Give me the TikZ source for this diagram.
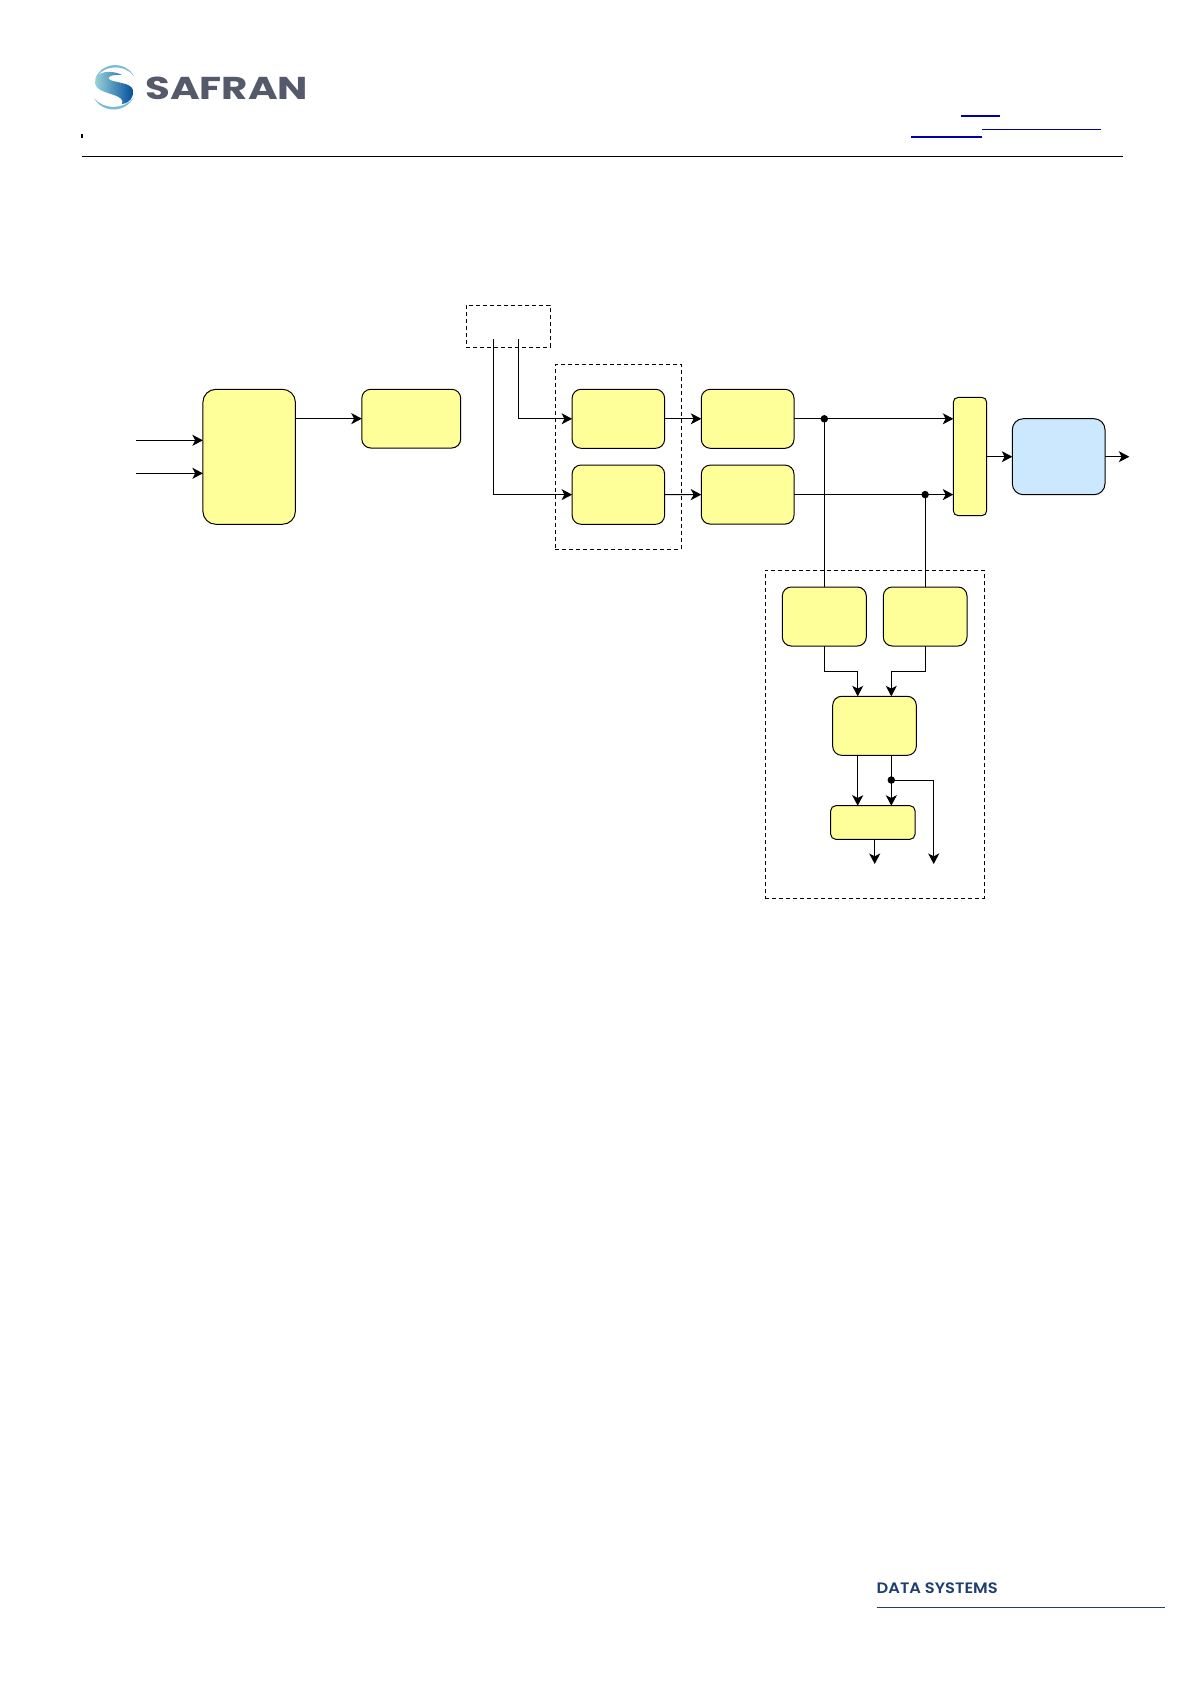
\documentclass[tikz,border=0pt]{standalone}
\usepackage{graphicx}
\usepackage{fontspec}
\newfontfamily\logofont{Poppins}[UprightFont=* Bold]
\newfontfamily\datafont{Poppins}[UprightFont=* SemiBold]
\usetikzlibrary{arrows.meta,calc}
\definecolor{boxyellow}{HTML}{FFFF99}
\definecolor{boxblue}{HTML}{CCE8FF}
\definecolor{linkblue}{HTML}{0000A8}
\definecolor{logogrey}{HTML}{555A6B}
\definecolor{datablue}{HTML}{1F3F6F}
\tikzset{
  x=1pt,y=-1pt,
  block/.style={draw=black,line width=1pt,inner sep=0pt,outer sep=0pt,rounded corners=9pt},
  ybox/.style={block,fill=boxyellow},
  bbox/.style={block,fill=boxblue,rounded corners=11pt},
  dbox/.style={draw=black,line width=0.9pt,dash pattern=on 4pt off 3pt,inner sep=0pt,outer sep=0pt},
  link/.style={draw=black,line width=1pt},
  arr/.style={link,-{Stealth[length=10.5pt,width=11pt,inset=2.8pt]}},
  dotn/.style={circle,fill=black,inner sep=0pt,minimum size=7.5pt},
}
\begin{document}
\begin{tikzpicture}
\useasboundingbox (0,0) rectangle (1191,1684);
% logo
\shade[left color=blue!10!cyan!30!white!85!black,right color=blue!50!cyan!60!black]
 (122,75) .. controls (112,70) and (96,70) .. (95,82)
 .. controls (95,90) and (105,92) .. (114,95)
 .. controls (120,97) and (124,100) .. (122,104)
 .. controls (130,103) and (134,97) .. (133,90)
 .. controls (131,83) and (118,83) .. (110,80)
 .. controls (106,78) and (110,74) .. (122,75) -- cycle;
\fill[blue!30!cyan!45!white!85!black]
 (95,80) .. controls (100,62) and (125,60) .. (134,76)
 .. controls (125,64) and (102,64) .. (95,80) -- cycle;
\fill[blue!30!cyan!45!white!85!black]
 (94,98) .. controls (102,113) and (125,114) .. (134,97)
 .. controls (125,110) and (103,110) .. (94,98) -- cycle;
\node[anchor=west,inner sep=0pt,text=logogrey] (logo) at (145,88.3)
 {\resizebox{163pt}{22.5pt}{\logofont SAFRAN}};
% header
\fill[black] (81,134) rectangle (83,138);
\draw[line width=1pt] (82,156.3) -- (1123,156.3);
\draw[linkblue,line width=2pt] (961,115.7) -- (1000,115.7);
\draw[linkblue,line width=1pt] (982,129.3) -- (1101,129.3);
\draw[linkblue,line width=2pt] (911,137) -- (982,137);
% footer
\node[anchor=west,inner sep=0pt,text=datablue] (data) at (876.5,1588.6)
 {\resizebox{121pt}{10.7pt}{\datafont DATA SYSTEMS}};
\draw[datablue,line width=1.4pt] (876.7,1607.3) -- (1165,1607.3);

% dashed groups
\node[dbox,minimum width=84pt,minimum height=42pt] (T) at (508.4,326.3) {};
\node[dbox,minimum width=125.9pt,minimum height=184.7pt] (Mid) at (618.35,456.65) {};
\node[dbox,minimum width=219pt,minimum height=328pt] (Low) at (874.8,734.3) {};

% blocks
\node[ybox,rounded corners=13pt,minimum width=92.5pt,minimum height=135pt] (A) at (249.15,456.8) {};
\node[ybox,minimum width=98.9pt,minimum height=58.7pt] (B) at (411.25,418.65) {};
\node[ybox,minimum width=92.5pt,minimum height=59pt] (C1) at (618.35,418.8) {};
\node[ybox,minimum width=92.5pt,minimum height=59.3pt] (C2) at (618.35,494.65) {};
\node[ybox,minimum width=92.7pt,minimum height=59pt] (D1) at (747.65,418.8) {};
\node[ybox,minimum width=92.7pt,minimum height=59pt] (D2) at (747.65,494.6) {};
\node[ybox,rounded corners=5pt,minimum width=33.4pt,minimum height=118.4pt] (M) at (970,456.5) {};
\node[bbox,minimum width=92.7pt,minimum height=76pt] (P) at (1058.65,456.7) {};
\node[ybox,minimum width=84pt,minimum height=59pt] (E1) at (824.3,616.5) {};
\node[ybox,minimum width=83.7pt,minimum height=59pt] (E2) at (925.15,616.5) {};
\node[ybox,minimum width=83.6pt,minimum height=59pt] (F) at (874.5,725.8) {};
\node[ybox,rounded corners=5pt,minimum width=84.3pt,minimum height=33.6pt] (G) at (872.85,822.5) {};

% free ends and routing points
\coordinate (in1) at (136,440.3);
\coordinate (in2) at (136,473.3);
\coordinate (t1) at (493.2,339.3);
\coordinate (t2) at (518.2,339.3);
\coordinate (out) at (1129.3,456.7);
\coordinate (jn) at (0,671);
\coordinate (fL) at (857.7,0);
\coordinate (fR) at (891.3,0);
\coordinate (gX) at (874.7,0);
\coordinate (brX) at (933.7,0);
\coordinate (endY) at (0,864);

% dots
\node[dotn] (d1) at (E1.north |- D1.east) {};
\node[dotn] (d2) at (E2.north |- D2.east) {};
\node[dotn] (d3) at (891.3,780) {};

% connectors
\draw[arr] (in1) -- (in1 -| A.west);
\draw[arr] (in2) -- (in2 -| A.west);
\draw[arr] (A.east |- B.west) -- (B.west);
\draw[arr] (t2) -- (t2 |- C1.west) -- (C1.west);
\draw[arr] (t1) -- (t1 |- C2.west) -- (C2.west);
\draw[arr] (C1.east) -- (D1.west);
\draw[arr] (C2.east) -- (D2.west);
\draw[arr] (D1.east) -- (D1.east -| M.west);
\draw[arr] (D2.east) -- (D2.east -| M.west);
\draw[arr] (M.east |- P.west) -- (P.west);
\draw[arr] (P.east) -- (out);
\draw[link] (d1.center) -- (E1.north);
\draw[link] (d2.center) -- (E2.north);
\draw[arr] (E1.south) -- (E1.south |- jn) -- (fL |- jn) -- (fL |- F.north);
\draw[arr] (E2.south) -- (E2.south |- jn) -- (fR |- jn) -- (fR |- F.north);
\draw[arr] (fL |- F.south) -- (fL |- G.north);
\draw[arr] (fR |- F.south) -- (fR |- G.north);
\draw[arr] (d3.center) -- (brX |- d3.center) -- (brX |- endY);
\draw[arr] (gX |- G.south) -- (gX |- endY);
\end{tikzpicture}
\end{document}
